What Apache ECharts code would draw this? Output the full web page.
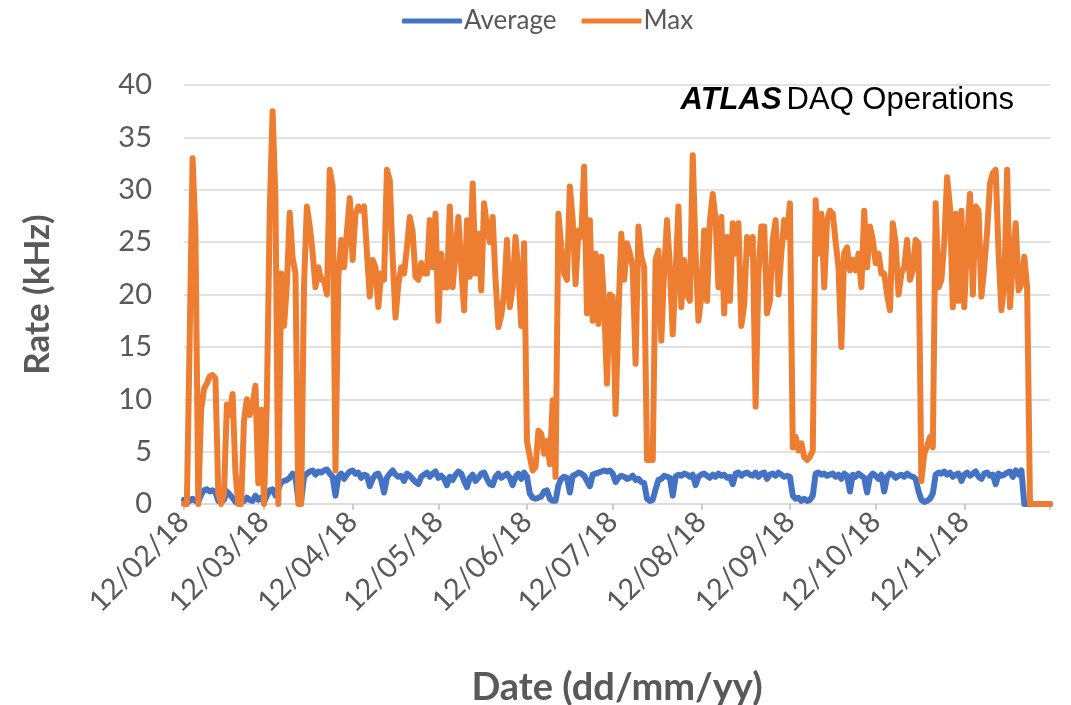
<!DOCTYPE html>
<html><head><meta charset="utf-8">
<script src="https://cdn.jsdelivr.net/npm/echarts@6/dist/echarts.min.js"></script>
<style>html,body{margin:0;padding:0;background:#fff}#c{width:1071px;height:705px}</style>
</head><body><div id="c"></div>
<script>
// Daily data from 12/02/18 to 12/12/18
const startDate = [2018, 1, 12]; // year, monthIndex, day
const dayCount = 304;
const seriesNames = ['Average', 'Max'];
const avgRate = [
0.4,0.4,0.3,0.5,0.3,0.2,0.9,1.3,1.4,1.2,1.3,1.1,0.3,0.2,0.4,1.2,0.9,0.6,0.2,0.1,
0.2,0.3,0.6,0.4,0.3,0.8,0.4,0.6,0.2,0.8,1.3,1.4,0.8,1.4,2.1,2.2,2.3,2.5,2.9,2.6,
0.4,0.3,2.6,2.9,3.1,3.2,2.8,3.1,3.0,3.2,3.3,2.9,2.6,0.8,2.6,2.9,2.4,2.8,3.1,3.2,
2.9,3.0,2.5,2.8,2.7,1.7,2.4,2.8,2.9,2.3,1.1,2.5,2.9,3.2,2.8,2.6,2.7,2.2,2.9,2.7,
2.4,2.1,1.9,2.6,2.8,3.0,2.6,2.9,3.1,2.5,2.7,2.4,1.8,2.6,2.3,2.8,3.1,2.9,2.2,1.6,
2.5,2.8,2.2,2.5,2.9,3.0,2.4,1.9,1.8,2.6,2.9,2.5,2.7,2.9,2.5,1.8,2.6,2.9,2.4,3.0,
2.6,1.0,0.6,0.5,0.6,0.7,1.2,1.3,0.5,0.3,0.3,1.8,2.4,2.6,2.5,1.1,2.7,2.8,3.0,2.9,
2.7,2.2,1.7,2.8,2.9,3.0,3.1,3.2,3.1,3.2,2.9,2.1,2.5,2.7,2.6,2.4,2.5,2.7,2.3,2.4,
2.1,2.0,0.5,0.3,0.4,1.4,2.3,2.4,2.7,2.6,2.5,0.8,2.6,2.8,2.7,2.9,2.8,2.6,2.8,1.8,
2.6,2.8,2.9,2.7,2.5,2.8,2.6,2.9,2.7,2.8,2.5,2.6,1.9,2.9,3.0,2.7,2.9,3.0,2.8,2.7,
3.0,2.6,2.9,3.0,2.4,2.8,2.9,2.7,3.0,2.8,2.6,2.7,2.6,0.8,0.5,0.6,0.3,0.5,0.3,0.4,
0.8,2.9,3.0,2.8,2.9,2.7,2.8,2.9,2.6,2.8,2.4,2.9,2.7,1.2,2.8,2.6,2.9,2.7,2.5,1.1,
2.6,2.9,2.7,2.4,2.8,1.2,2.6,2.9,2.8,2.5,2.7,2.8,2.6,2.9,2.7,2.6,2.4,1.2,0.4,0.2,
0.3,0.5,1.0,2.8,3.0,2.9,3.1,2.8,3.0,2.6,2.8,2.9,2.2,2.8,3.0,2.7,2.9,3.1,2.6,2.4,
2.9,3.0,2.7,2.8,1.9,2.9,2.7,2.8,3.0,3.1,2.6,3.2,2.8,3.2,0,0,0,0,0,0,
0,0,0,0
];
const maxRate = [
0,0,16,33,26,0,9,11,11.5,12.2,12.3,12,1,0,1,9.5,8.5,10.5,3,0,
0,8,10,8.5,9.5,11.3,2,9,0,10,28,37.5,29,0,22,17,21,27.8,23.5,22,
0,0,21,28.4,26.5,24,20.7,22.6,21.4,21.4,20,31.9,30.3,3.2,21.7,25.2,22.6,26,29.2,23.3,
27.7,28.4,28,28.4,24,19.8,23.3,22.6,18.8,22,21.4,31.9,30.9,23.6,17.8,21,22.6,22,24.5,27.4,
26,21.7,21.4,23,22,22,27.1,22.6,27.7,17.5,23.9,20.7,20.7,28.4,20.7,24,27.4,22.6,18.5,27.1,
21.7,30.6,22,25.8,20.4,28.7,26.5,25,27.4,21.4,16.9,18,20,25.2,18.8,20.7,25.5,22,17,24.9,
6,4.5,3.2,3.5,7,6.7,4.8,6,3.8,9.9,2.6,27.7,24.5,22,21.4,30.3,27.1,21,26.1,25.5,
32.2,18.2,27.1,17.5,23.9,17.2,23.6,19,11.5,20,19.8,8.6,18,25.8,21.4,24.9,23.9,22.6,13.4,26.5,
23.6,22.6,4.2,4.2,4.2,23.3,24.2,15.6,22.3,27.1,22.6,16.2,22,28.4,18.8,23.3,20,19.4,33.3,24,
17.5,19.8,26.1,19.4,27,29.6,27.1,20.7,27.4,18.2,25.5,19.4,26.8,23.9,26.8,17,19,25.5,23.9,25.5,
9.3,22,26.5,26.5,18.2,19.4,25.2,27.1,20,24,27.1,25.5,28.7,5.4,6.4,5.1,5.8,4.5,4.2,4.5,
5.1,29,23.9,27.7,20.7,27.1,28,27.7,25,22.6,15,24,24.5,22.3,23.3,22.3,23.9,20.7,28,22.6,
26.5,25.2,23,23.9,22,22,20,18.5,26.8,24.9,20,22,22.6,25.2,21.4,22.3,25.2,24.9,2.2,4.8,
5.5,6.4,5.4,28.7,20.7,21.4,25,31.2,28.4,18.8,27.7,19.4,28,18.8,25.2,29.6,20,28.4,28,19.8,
22.6,26,30.6,31.6,31.9,24,18.5,21,31.9,18.8,23,26.8,20.4,21,23.6,20.7,0,0,0,0,
0,0,0,0
];
const yMin = 0, yMax = 40, yStep = 5;

function pad(n){ return (n < 10 ? '0' : '') + n; }
const dates = [];
for (let i = 0; i < dayCount; i++) {
  const d = new Date(Date.UTC(startDate[0], startDate[1], startDate[2] + i));
  dates.push(pad(d.getUTCDate()) + '/' + pad(d.getUTCMonth() + 1) + '/' + String(d.getUTCFullYear()).slice(2));
}

const chart = echarts.init(document.getElementById('c'), null, {renderer: 'canvas'});
const grey = '#595959';
const font = 'Lato, "Open Sans", sans-serif';
const titleFont = '"Liberation Sans", Arial, sans-serif';
chart.setOption({
  animation: false,
  backgroundColor: '#ffffff',
  title: {
    text: '{a|ATLAS} {b|DAQ Operations}',
    right: 52, top: 80,
    textStyle: {
      fontWeight: 'normal',
      rich: {
        a: {fontFamily: titleFont, fontStyle: 'italic', fontWeight: 'bold', fontSize: 31, color: '#000'},
        b: {fontFamily: titleFont, fontStyle: 'normal', fontWeight: 'normal', fontSize: 31, color: '#000'}
      }
    }
  },
  legend: {
    top: 3, left: 397,
    itemWidth: 60, itemHeight: 5, itemGap: 25,
    icon: 'roundRect',
    textStyle: {fontFamily: font, fontSize: 26, color: grey, padding: [0, 0, 0, -3]},
    data: seriesNames
  },
  grid: {left: 184, right: 21, top: 85, bottom: 201, containLabel: false, outerBoundsMode: 'none'},
  xAxis: {
    type: 'category',
    data: dates,
    boundaryGap: false,
    name: 'Date (dd/mm/yy)',
    nameLocation: 'middle',
    nameGap: 165,
    nameTextStyle: {fontFamily: font, fontSize: 38, fontWeight: 'bold', color: grey},
    axisLine: {lineStyle: {color: '#d9d9d9', width: 1.5}},
    axisTick: {show: true, length: 6, lineStyle: {color: '#bfbfbf', width: 1.5},
      interval: function (i, v) { return v.slice(0, 3) === '12/'; }},
    axisLabel: {
      rotate: 45, fontFamily: font, fontSize: 29, color: grey, margin: 13,
      interval: function (i, v) { return v.slice(0, 3) === '12/' && i < dayCount - 1; }
    },
    splitLine: {show: false}
  },
  yAxis: {
    type: 'value',
    min: yMin, max: yMax, interval: yStep,
    name: 'Rate (kHz)',
    nameLocation: 'middle',
    nameGap: 129,
    nameTextStyle: {fontFamily: font, fontSize: 35, fontWeight: 'bold', color: grey},
    axisLine: {show: false},
    axisTick: {show: false},
    axisLabel: {fontFamily: font, fontSize: 29, color: grey, margin: 32},
    splitLine: {lineStyle: {color: '#d9d9d9', width: 1.5}}
  },
  series: [
    {name: seriesNames[0], type: 'line', data: avgRate, symbol: 'none', z: 2,
     itemStyle: {color: '#4472C4'}, lineStyle: {color: '#4472C4', width: 6, join: 'round', cap: 'round'}},
    {name: seriesNames[1], type: 'line', data: maxRate, symbol: 'none', z: 3,
     itemStyle: {color: '#ED7D31'}, lineStyle: {color: '#ED7D31', width: 6, join: 'round', cap: 'round'}}
  ]
});
</script>
</body></html>
